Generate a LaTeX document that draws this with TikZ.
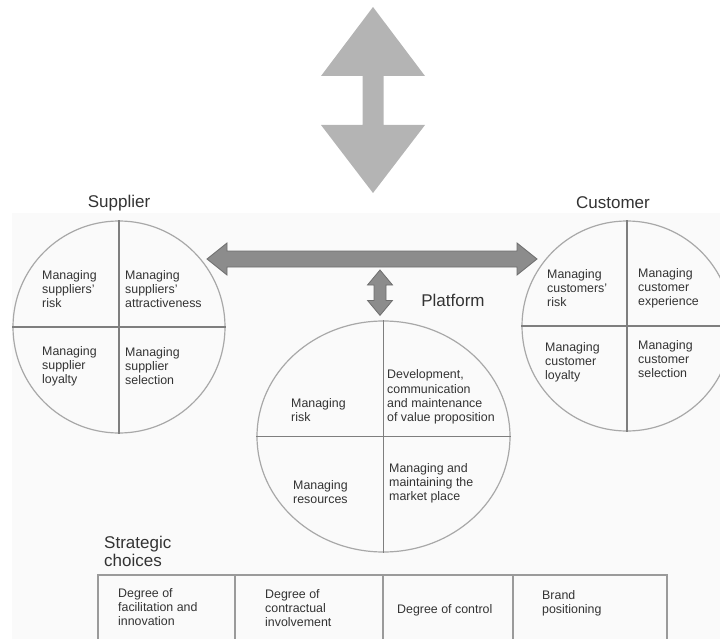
\documentclass[tikz,border=0pt]{standalone}
\usepackage{fontspec}
\setmainfont{Liberation Sans}
\usetikzlibrary{shapes.geometric,calc}
\definecolor{ink}{HTML}{333333}
\definecolor{rim}{HTML}{A8A8A8}
\definecolor{divider}{HTML}{7E7E7E}
\definecolor{bigarrow}{HTML}{B4B4B4}
\definecolor{linkfill}{HTML}{8C8C8C}
\definecolor{linkedge}{HTML}{6E6E6E}
\definecolor{panel}{HTML}{FAFAFA}
\definecolor{tableline}{HTML}{9A9A9A}
\tikzset{
  heading/.style={font=\fontsize{17}{18}\selectfont, text=ink, inner sep=0pt, align=left},
  cell/.style={font=\fontsize{12.4}{14.2}\selectfont, text=ink, inner sep=0pt, align=left, anchor=west},
  disc/.style={circle, draw=rim, line width=1.2pt, minimum size=212pt, inner sep=0pt},
  quarter/.style={draw=divider, line width=1.5pt},
  link/.style={fill=linkfill, draw=linkedge, line width=0.8pt, line join=miter},
}
\begin{document}
\begin{tikzpicture}[x=1pt,y=-1pt]
\useasboundingbox (0,0) rectangle (720,639);
\clip (0,0) rectangle (720,639);
\fill[panel] (12,213) rectangle (720,639);

% large two-way arrow at the top
\coordinate (ut) at (373,7);
\coordinate (ub) at (373,193);
\fill[bigarrow] (ut) -- ($(ut)+(52,69)$) -- ($(ut)+(10.5,69)$) -- ($(ub)+(10.5,-68)$) -- ($(ub)+(52,-68)$)
  -- (ub) -- ($(ub)+(-52,-68)$) -- ($(ub)+(-10.5,-68)$) -- ($(ut)+(-10.5,69)$) -- ($(ut)+(-52,69)$) -- cycle;

% supplier circle
\node[disc] (sup) at (119,327) {};
\draw[quarter] (sup.north) -- (sup.south);
\draw[quarter] (sup.west) -- (sup.east);
\node[heading, anchor=center] (suplab) at (119,203) {Supplier};
\node[cell] (s1) at (42,289) {Managing\\suppliers'\\risk};
\node[cell] (s2) at (125,289) {Managing\\suppliers'\\attractiveness};
\node[cell] (s3) at (42,366) {Managing\\supplier\\loyalty};
\node[cell] (s4) at (125,366) {Managing\\supplier\\selection};

% customer circle
\node[disc, minimum size=210pt] (cus) at (627,326) {};
\draw[quarter] (cus.north) -- (cus.south);
\draw[quarter] (cus.west) -- (cus.east);
\node[heading, anchor=center] (cuslab) at (613,203) {Customer};
\node[cell] (c1) at (547,288) {Managing\\customers'\\risk};
\node[cell] (c2) at (638,288) {Managing\\customer\\experience};
\node[cell] (c3) at (545,362) {Managing\\customer\\loyalty};
\node[cell] (c4) at (638,359) {Managing\\customer\\selection};

% platform ellipse
\node[ellipse, draw=rim, line width=1.2pt, minimum width=253pt, minimum height=231pt, inner sep=0pt] (plat) at (383.5,436.5) {};
\draw[quarter] (plat.north) -- (plat.south);
\draw[quarter] (plat.west) -- (plat.east);
\node[heading, anchor=center] (platlab) at (453,300) {Platform};
\node[cell] (p1) at (291,410) {Managing\\risk};
\node[cell] (p2) at (387,397) {Development,\\communication\\and maintenance\\of value proposition};
\node[cell] (p3) at (293,492) {Managing\\resources};
\node[cell] (p4) at (389,483) {Managing and\\maintaining the\\market place};

% supplier <-> customer link
\coordinate (hl) at ($(sup.center)+(88,-68)$);
\coordinate (hr) at ($(cus.center)+(-90,-67)$);
\path[link] (hl) -- ($(hl)+(20,-16)$) -- ($(hl)+(20,-8)$) -- ($(hr)+(-20,-8)$) -- ($(hr)+(-20,-16)$)
  -- (hr) -- ($(hr)+(-20,16)$) -- ($(hr)+(-20,8)$) -- ($(hl)+(20,8)$) -- ($(hl)+(20,16)$) -- cycle;

% link <-> platform
\coordinate (vt) at (380,270);
\coordinate (vb) at ($(plat.north)+(-3.5,-5)$);
\path[link] (vt) -- ($(vt)+(12.5,15)$) -- ($(vt)+(6,15)$) -- ($(vb)+(6,-15)$) -- ($(vb)+(12.5,-15)$)
  -- (vb) -- ($(vb)+(-12.5,-15)$) -- ($(vb)+(-6,-15)$) -- ($(vt)+(-6,15)$) -- ($(vt)+(-12.5,15)$) -- cycle;

% strategic choices table
\node[heading, anchor=west] (strat) at (104,551) {Strategic\\choices};
\draw[tableline, line width=1.2pt] (98,660) -- (98,575) -- (667,575) -- (667,660);
\draw[tableline, line width=1.2pt] (235,575) -- (235,660);
\draw[tableline, line width=1.2pt] (383,575) -- (383,660);
\draw[tableline, line width=1.2pt] (513,575) -- (513,660);
\node[cell] (t1) at (118,607) {Degree of\\facilitation and\\innovation};
\node[cell] (t2) at (265,608) {Degree of\\contractual\\involvement};
\node[cell] (t3) at (397,610) {Degree of control};
\node[cell] (t4) at (542,603) {Brand\\positioning};
\end{tikzpicture}
\end{document}
